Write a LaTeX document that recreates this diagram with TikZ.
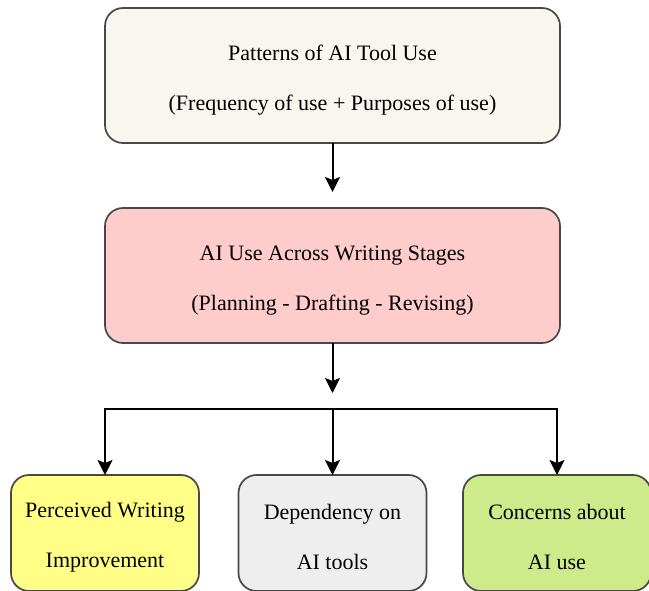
\documentclass[tikz,border=0pt]{standalone}
\usepackage{fontspec}
\setmainfont{Liberation Serif}
\usetikzlibrary{arrows.meta}
\definecolor{boxline}{HTML}{484848}
\definecolor{creamfill}{HTML}{F8F6EE}
\definecolor{pinkfill}{HTML}{FFCCCC}
\definecolor{yellowfill}{HTML}{FFFF88}
\definecolor{grayfill}{HTML}{EEEEEE}
\definecolor{greenfill}{HTML}{CDEB8B}
\begin{document}
\begin{tikzpicture}[x=1pt,y=-1pt,
  box/.style = {rectangle,rounded corners=18pt,draw=boxline,line width=1.7pt,align=center,font=\fontsize{22}{50}\selectfont,outer sep=0mm,text height=74pt},
  wide/.style = {box,minimum width=455pt,minimum height=135pt},
  small/.style = {box,minimum width=188pt,minimum height=116pt},
  link/.style = {line width=2pt,-{Stealth[length=15pt,width=15pt,inset=3pt]}}]
\useasboundingbox (0,0) rectangle (649,591);
% boxes
\node[wide,fill=creamfill] (patterns) at (332.5,75.5) {Patterns of AI Tool Use\\(Frequency of use + Purposes of use)};
\node[wide,fill=pinkfill] (stages) at (332.5,275.5) {AI Use Across Writing Stages\\(Planning - Drafting - Revising)};
\node[small,fill=yellowfill] (improve) at (105,533) {Perceived Writing\\Improvement};
\node[small,fill=grayfill] (depend) at (332.5,533) {Dependency on\\AI tools};
\node[small,fill=greenfill] (concern) at (557,533) {Concerns about\\AI use};
% connectors
\coordinate (split) at (332.5,409);
\draw[link,shorten >=16pt] (patterns) -- (stages);
\draw[link,shorten >=16pt] (stages) -- (split);
\draw[link] (split) -- (split -| improve) -- (improve);
\draw[link] (split) -- (depend);
\draw[link] (split) -- (split -| concern) -- (concern);
\end{tikzpicture}
\end{document}
